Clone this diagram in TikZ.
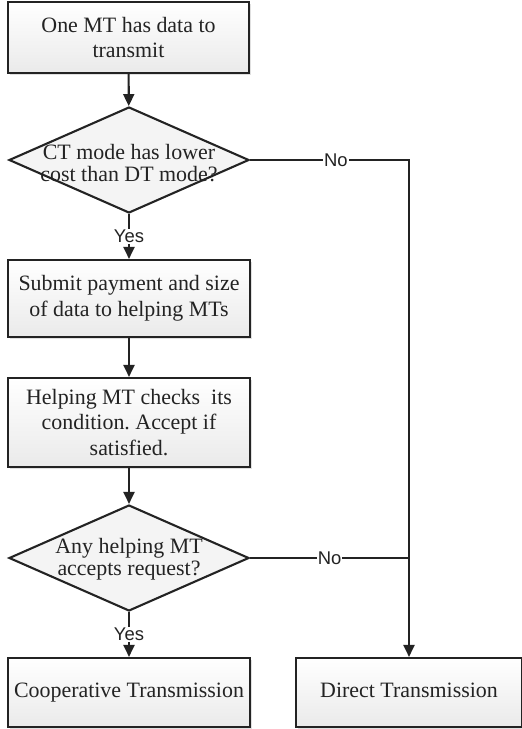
\documentclass[tikz,border=0pt]{standalone}
\usepackage{fontspec}
\setmainfont{Liberation Serif}
\newfontfamily\labfont{Liberation Sans}
\usetikzlibrary{arrows.meta,shadows,shapes.geometric}
\definecolor{ln}{HTML}{232323}
\definecolor{boxb}{HTML}{EAEAEA}
\definecolor{diaf}{HTML}{F4F4F4}
\frenchspacing
\begin{document}
\begin{tikzpicture}[x=1bp,y=-1bp,
  box/.style={draw=ln, line width=2.1bp, rectangle, top color=white, bottom color=boxb,
    align=center, inner sep=0pt, text=ln, font=\fontsize{22}{26}\selectfont,
    drop shadow={shadow xshift=2bp, shadow yshift=-2bp, fill=black, opacity=.12}},
  dia/.style={draw=ln, line width=2.1bp, diamond, fill=diaf, minimum width=240bp,
    minimum height=106bp, inner sep=0pt},
  dtxt/.style={align=center, inner sep=0pt, text=ln, font=\fontsize{22}{22}\selectfont},
  lab/.style={font=\labfont\fontsize{18.5}{20}\selectfont, fill=white, inner sep=1bp, text=ln},
  arr/.style={draw=ln, line width=2.1bp, -{Triangle[length=12bp,width=11bp]}},
  plain/.style={draw=ln, line width=2.1bp}]
\useasboundingbox (0,0) rectangle (522,729);
\node[box, minimum width=241bp, minimum height=71bp] (b1) at (128.5,37.5) {One MT has data to\\transmit};
\node[dia] (d1) at (129,160) {};
\node[dtxt] (t1) at (129,163) {CT mode has lower\\cost than DT mode?};
\node[box, minimum width=242bp, minimum height=77bp] (b2) at (129,298.5) {Submit payment and size\\of data to helping MTs};
\node[box, minimum width=242bp, minimum height=89bp] (b3) at (129,422.5) {Helping MT checks~ its\\condition. Accept if\\satisfied.};
\node[dia] (d2) at (129,558) {};
\node[dtxt] (t2) at (129,559.5) {Any helping MT\\accepts request?};
\node[box, minimum width=242bp, minimum height=69bp] (b4) at (129,692.5) {Cooperative Transmission};
\node[box, minimum width=226bp, minimum height=69bp] (b5) at (409,692.5) {Direct Transmission\vphantom{p}};
\coordinate (c1) at (409,160);
\draw[arr] (b1) -- (d1);
\draw[arr] (d1) -- node[lab]{Yes} (b2);
\draw[arr] (b2) -- (b3);
\draw[arr] (b3) -- (d2);
\draw[arr] (d2) -- node[lab]{Yes} (b4);
\draw[arr] (d1.east) -- node[lab, pos=0.54]{No} (c1) -- (b5.north);
\draw[plain] (d2.east) -- node[lab, pos=0.5]{No} (d2.east -| c1);
\end{tikzpicture}
\end{document}
